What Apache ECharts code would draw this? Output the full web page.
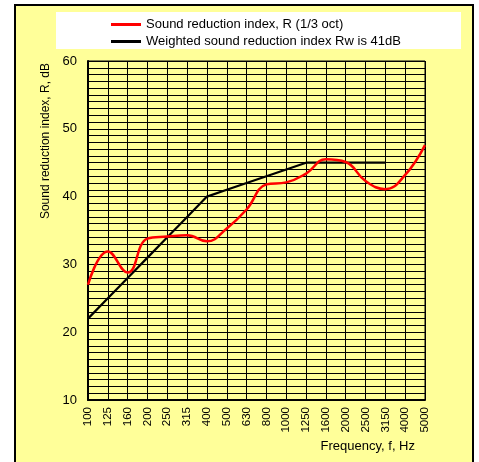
<!DOCTYPE html>
<html>
<head>
<meta charset="utf-8">
<script src="https://cdn.jsdelivr.net/npm/echarts@6/dist/echarts.min.js"></script>
<style>html,body{margin:0;padding:0;background:#fff}#c{width:479px;height:462px}</style>
</head>
<body>
<div id="c"></div>
<script>
var categories = ['100','125','160','200','250','315','400','500','630','800','1000','1250','1600','2000','2500','3150','4000','5000'];
var soundReduction = [27, 31.9, 28.8, 33.8, 34.1, 34.3, 33.4, 35.3, 38.1, 41.8, 42.1, 43.4, 45.5, 45.1, 42.3, 41.1, 43.2, 47.6];
var weightedRef = [22, 25, 28, 31, 34, 37, 40, 41, 42, 43, 44, 45, 45, 45, 45, 45, null, null];
var seriesNames = ['Sound reduction index, R (1/3 oct)', 'Weighted sound reduction index Rw is 41dB'];
var yTitle = 'Sound reduction index, R, dB';
var xTitle = 'Frequency, f, Hz';

var chart = echarts.init(document.getElementById('c'));
var font = 'Arial, "Liberation Sans", sans-serif';
chart.setOption({
  backgroundColor: '#ffffff',
  animation: false,
  graphic: [
    {type: 'rect', z: -10, shape: {x: 15, y: 5, width: 458, height: 470}, style: {fill: '#FFFF99', stroke: '#000', lineWidth: 2}},
    {type: 'rect', z: -9, shape: {x: 56, y: 12, width: 405, height: 37}, style: {fill: '#ffffff'}},
    {type: 'text', left: 40, top: 63, rotation: Math.PI / 2, style: {text: yTitle, font: '12px ' + font, fill: '#000', textAlign: 'right', textVerticalAlign: 'top'}},
    {type: 'text', right: 64, top: 440, style: {text: xTitle, font: '13px ' + font, fill: '#000'}}
  ],
  legend: {
    orient: 'vertical', left: 106, top: 13, itemWidth: 30, itemHeight: 3, itemGap: 4,
    icon: 'rect',
    textStyle: {fontFamily: font, fontSize: 13, color: '#000'},
    data: seriesNames
  },
  grid: {left: 88, right: 54, top: 61, bottom: 62, show: true, borderColor: '#000', borderWidth: 1},
  xAxis: {
    type: 'category', data: categories, boundaryGap: false,
    axisLine: {lineStyle: {color: '#000', width: 2}},
    axisTick: {show: false},
    axisLabel: {rotate: 90, interval: 0, margin: 7, fontFamily: font, fontSize: 11.5, color: '#000'},
    splitLine: {show: true, interval: 0, lineStyle: {color: '#000', width: 1}}
  },
  yAxis: {
    type: 'value', min: 10, max: 60, interval: 10,
    axisLine: {show: true, lineStyle: {color: '#000', width: 2}},
    axisTick: {show: false},
    axisLabel: {margin: 11, fontFamily: font, fontSize: 13, color: '#000'},
    splitLine: {show: true, lineStyle: {color: '#000', width: 1}},
    minorTick: {show: false, splitNumber: 10},
    minorSplitLine: {show: true, lineStyle: {color: '#000', width: 1}}
  },
  series: [
    {name: seriesNames[0], type: 'line', data: soundReduction, smooth: 0.45, symbol: 'none', color: '#ff0000', lineStyle: {color: '#ff0000', width: 2.5}, z: 3},
    {name: seriesNames[1], type: 'line', data: weightedRef, smooth: false, symbol: 'none', color: '#000000', lineStyle: {color: '#000000', width: 2.2}, z: 2}
  ]
});
</script>
</body>
</html>
